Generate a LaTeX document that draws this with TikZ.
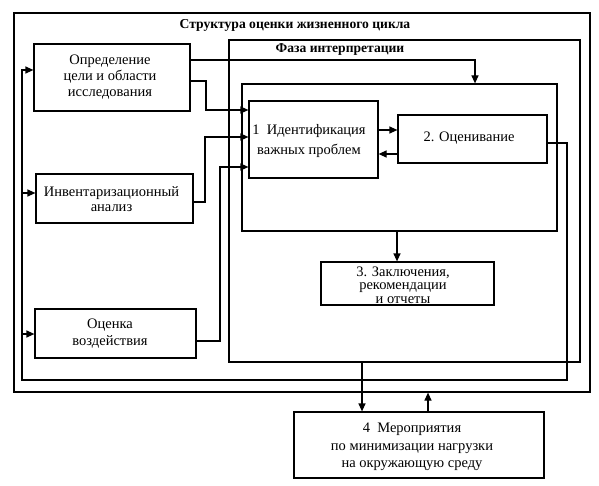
\documentclass[tikz,border=0pt]{standalone}
\usepackage{fontspec}
\setmainfont{Liberation Serif}
\usetikzlibrary{arrows.meta}
\begin{document}
\begin{tikzpicture}[x=1pt,y=-1pt,
  line width=1.2pt,
  frame/.style={draw, rectangle, inner sep=0pt},
  txt/.style={inner sep=0pt, align=center, font=\fontsize{14.5}{16}\selectfont},
  ttl/.style={font=\bfseries\fontsize{13.6}{15}\selectfont, inner sep=0pt},
  arr/.style={-{Triangle[length=8pt,width=7pt]}}]
\useasboundingbox (0,0) rectangle (599,486);
% frames
\node[frame, minimum width=576pt, minimum height=379pt] (outer) at (302,202.5) {};
\node[frame, minimum width=351pt, minimum height=322pt] (phase) at (404.5,201) {};
\node[frame, minimum width=315pt, minimum height=147pt] (inner) at (399.5,157.5) {};
\node[ttl] (tOuter) at (295,25) {Структура оценки жизненного цикла};
\node[ttl] (tPhase) at (340,49) {Фаза интерпретации};
% boxes
\node[frame, minimum width=156pt, minimum height=67pt] (def) at (112,77.5) {};
\node[frame, minimum width=157pt, minimum height=49pt] (inv) at (114.5,198.5) {};
\node[frame, minimum width=161pt, minimum height=49pt] (imp) at (115.5,333.5) {};
\node[frame, minimum width=129pt, minimum height=77pt] (b1) at (313.5,139.5) {};
\node[frame, minimum width=149pt, minimum height=48pt] (b2) at (472.5,139) {};
\node[frame, minimum width=173pt, minimum height=43pt] (b3) at (407.5,283.5) {};
\node[frame, minimum width=250pt, minimum height=66pt] (b4) at (419,445) {};
% texts
\node[txt] (defT) at (110,77) {Определение\\цели и области\\исследования};
\node[txt, font=\fontsize{14.5}{15}\selectfont] (invT) at (111.5,199.5) {Инвентаризационный\\анализ};
\node[txt, font=\fontsize{14.5}{17}\selectfont] (impT) at (110,333.5) {Оценка\\воздействия};
\node[txt, font=\fontsize{14.5}{20}\selectfont] (b1T) at (309,141) {1\enspace Идентификация\\важных проблем};
\node[txt] (b2T) at (469,138) {2. Оценивание};
\node[txt, font=\fontsize{14.5}{13.5}\selectfont] (b3T) at (403,285) {3. Заключения,\\рекомендации\\и отчеты};
\node[txt, font=\fontsize{14.5}{17.5}\selectfont] (b4T) at (412,447) {4\enspace Мероприятия\\по минимизации нагрузки\\на окружающую среду};
% bend coordinates
\coordinate (lpA) at (567,143);
\coordinate (lpB) at (567,380);
\coordinate (lpC) at (22,380);
\coordinate (lpD) at (22,70);
\coordinate (lpI) at (22,193);
\coordinate (lpO) at (22,334);
% connectors
\draw[arr] (b2.east |- lpA) -- (lpA) -- (lpB) -- (lpC) -- (lpD) -- (def.west |- lpD);
\draw[arr] (lpI) -- (inv.west |- lpI);
\draw[arr] (lpO) -- (imp.west |- lpO);
\draw[arr] (def.east |- 0,60) -- (475,60) -- (inner.north -| 475,0);
\draw[arr] (def.east |- 0,81) -- (206,81) -- (206,110) -- (b1.west |- 0,110);
\draw[arr] (inv.east |- 0,202) -- (205,202) -- (205,137) -- (b1.west |- 0,137);
\draw[arr] (imp.east |- 0,341) -- (220,341) -- (220,167) -- (b1.west |- 0,167);
\draw[arr] (b1.east |- 0,130) -- (b2.west |- 0,130);
\draw[arr] (b2.west |- 0,154) -- (b1.east |- 0,154);
\draw[arr] (inner.south -| 397,0) -- (b3.north -| 397,0);
\draw[arr] (phase.south -| 362,0) -- (b4.north -| 362,0);
\draw[arr] (b4.north -| 428,0) -- (outer.south -| 428,0);
\end{tikzpicture}
\end{document}
